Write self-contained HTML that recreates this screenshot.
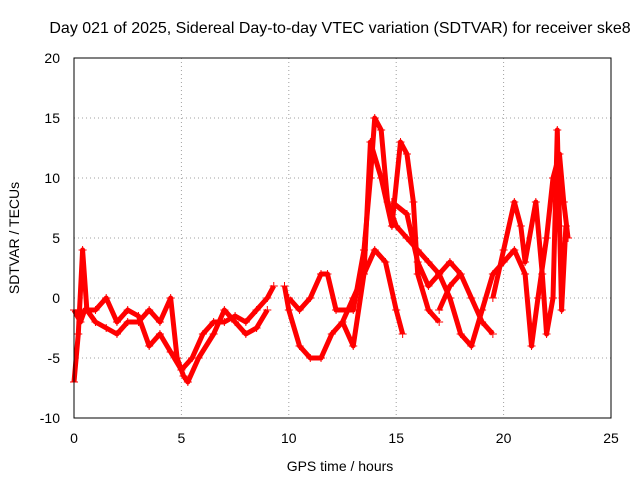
<!DOCTYPE html>
<html><head><meta charset="utf-8">
<style>
body{margin:0;background:#fff;}
svg{display:block;font-family:"Liberation Sans",Arial,sans-serif;}
</style></head>
<body>
<svg id="chart" width="640" height="480" viewBox="0 0 640 480" xmlns="http://www.w3.org/2000/svg">
<rect width="640" height="480" fill="#fff"/>
<text x="340" y="33" font-size="16" text-anchor="middle">Day 021 of 2025, Sidereal Day-to-day VTEC variation (SDTVAR) for receiver ske8</text>
<text x="340" y="471" font-size="14" text-anchor="middle">GPS time / hours</text>
<text x="19" y="238" font-size="14" text-anchor="middle" transform="rotate(-90 19 238)">SDTVAR / TECUs</text>
<g id="grid"></g><g id="ticks"></g><g id="series"></g>
<rect x="74" y="58" width="537" height="360" fill="none" stroke="#000" stroke-width="1"/>
</svg>
<script>
const xTicks=[0,5,10,15,20,25];
const yTicks=[-10,-5,0,5,10,15,20];
const trackA_t=[0,0.3,0.5,1,1.5,2,2.5,3,3.5,4,4.5,5,5.5,6,6.5,7,7.5,8,8.5,9,9.3];
const trackA_v=[-1,-2,-1,-1,0,-2,-1,-1.5,-4,-3,-4.5,-6,-5,-3,-2,-2,-1.5,-2,-1,0,1];
const trackB_t=[0,0.2,0.4,0.6,1,1.5,2,2.5,3,3.5,4,4.5,4.8,5.1,5.3,5.8,6.5,7,7.5,8,8.5,9];
const trackB_v=[-7,-3,4,-1,-2,-2.5,-3,-2,-2,-1,-2,0,-5,-6.5,-7,-5,-3,-1,-2,-3,-2.5,-1];
const trackC_t=[9.8,10,10.5,11,11.5,12,12.5,13,13.5,14,14.5,15,15.3];
const trackC_v=[1,-1,-4,-5,-5,-3,-2,0,2,4,3,-1,-3];
const trackD_t=[10,10.5,11,11.5,11.8,12.2,13,13.5,13.8,14,14.3,14.6,15,15.5,16,16.5,17,17.5,18];
const trackD_v=[0,-1,0,2,2,-1,-1,4,10,15,14,8,6,5,4,3,2,3,2];
const trackE_t=[12.5,13,13.5,13.8,14.3,14.8,15.2,15.5,15.8,16,16.5,17];
const trackE_v=[-2,-4,2,13,10,6,13,12,8,2,-1,-2];
const trackF_t=[14.8,15.5,16,16.5,17,17.5,18,18.5,19,19.5,20,20.5,21,21.3,21.6,22,22.3,22.6,22.8,23];
const trackF_v=[8,7,3,1,2,0,-3,-4,-1,2,3,4,2,-4,0,5,10,12,8,5];
const trackG_t=[19.5,20,20.5,20.8,21,21.5,21.8,22,22.3,22.5,22.7,22.9];
const trackG_v=[0,4,8,6,3,8,2,-3,0,14,-1,6];
const trackH_t=[17,17.5,18,18.5,19,19.5];
const trackH_v=[-1,1,2,0,-2,-3];
const tracks=[[trackA_t,trackA_v],[trackB_t,trackB_v],[trackC_t,trackC_v],[trackD_t,trackD_v],[trackE_t,trackE_v],[trackF_t,trackF_v],[trackG_t,trackG_v],[trackH_t,trackH_v]];
const NS="http://www.w3.org/2000/svg";
const X=t=>74+t/25*537, Y=v=>418-(v+10)/30*360;
const grid=document.getElementById('grid'),ticks=document.getElementById('ticks'),ser=document.getElementById('series');
function mk(tag,attrs,parent){const e=document.createElementNS(NS,tag);for(const k in attrs)e.setAttribute(k,attrs[k]);parent.appendChild(e);return e;}
xTicks.forEach(t=>{
  if(t>0&&t<25){const g=mk('line',{x1:X(t),x2:X(t),y1:58,y2:418,stroke:'#a0a0a0','stroke-dasharray':'1,3'},grid);
  
  }
  const l=mk('text',{x:X(t),y:443,'font-size':14,'text-anchor':'middle'},ticks);l.textContent=t;
  
  
});
yTicks.forEach(v=>{
  if(v>-10&&v<20){const g=mk('line',{x1:74,x2:611,y1:Y(v),y2:Y(v),stroke:'#a0a0a0','stroke-dasharray':'1,3'},grid);
  
  }
  const l=mk('text',{x:60,y:Y(v)+5,'font-size':14,'text-anchor':'end'},ticks);l.textContent=v;
  
  
});
tracks.forEach(([ts,vs],i)=>{
  const pts=ts.map((t,j)=>X(t)+','+Y(vs[j])).join(' ');
  const p=mk('polyline',{points:pts,fill:'none',stroke:'#f00','stroke-width':5,'stroke-linejoin':'round'},ser);
  
  
  ts.forEach((t,j)=>{
    const x=X(t),y=Y(vs[j]);
    const m=mk('path',{d:`M${x-4},${y}H${x+4}M${x},${y-4}V${y+4}`,stroke:'#f00','stroke-width':1},ser);
    
    
  });
});
</script>
</body></html>
